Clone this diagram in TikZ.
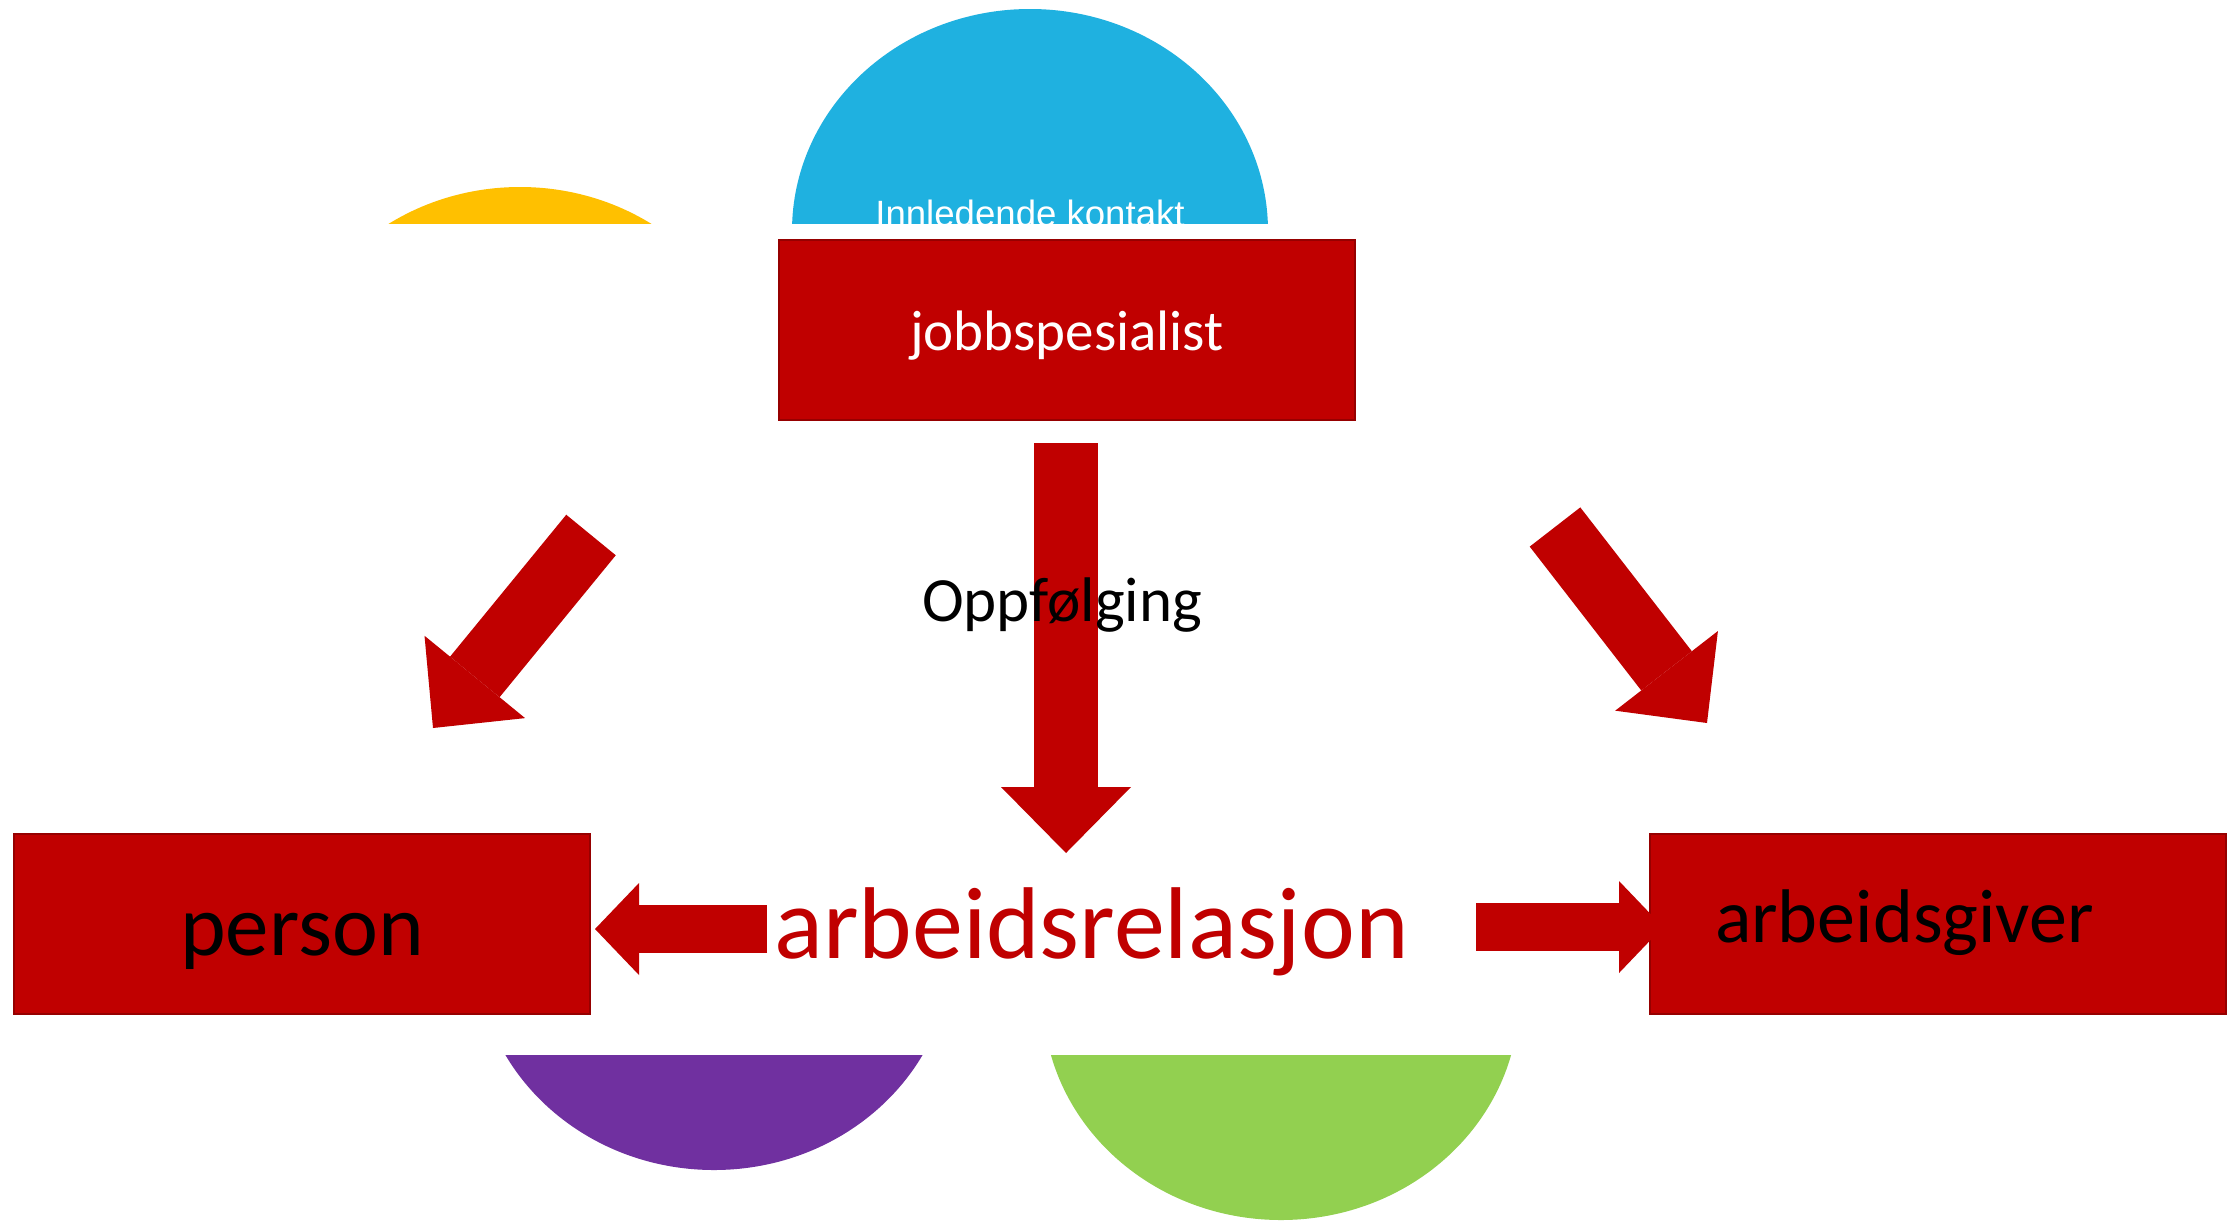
\documentclass[tikz,border=0pt]{standalone}
\usepackage{fontspec}
\setmainfont{Carlito}
\newfontfamily\arialfont{Liberation Sans}
\usetikzlibrary{arrows.meta}

\definecolor{boxred}{RGB}{192,0,0}
\definecolor{edgered}{RGB}{150,0,0}
\definecolor{segblue}{RGB}{31,177,224}
\definecolor{segyellow}{RGB}{255,192,0}
\definecolor{segpurple}{RGB}{112,48,160}
\definecolor{seggreen}{RGB}{146,208,80}

\tikzset{every picture/.style={line width=0.75pt}}
\tikzset{
  rolebox/.style={fill=boxred, draw=edgered, line width=1pt, minimum width=288pt, minimum height=90pt, inner sep=0pt},
  bigarrow/.style={draw=boxred, line width=32pt, -{Triangle[length=33pt 0 0, width=65pt 0 0, line width=0pt]}},
  smallarrow/.style={draw=boxred, line width=24pt, -{Triangle[length=22pt 0 0, width=46pt 0 0, line width=0pt]}},
}

\begin{document}
\begin{tikzpicture}[x=0.5pt,y=0.5pt,yscale=-1,xscale=1]
	\useasboundingbox (0,0) rectangle (2238,1221);
	\fill[white] (0,0) rectangle (2238,1221);

	%Shape: upper segments
	\begin{scope}
		\clip (0,0) rectangle (2238,223);
		\fill[segyellow] (520,409) ellipse [x radius=238, y radius=222];
		\fill[segblue] (1030,231) ellipse [x radius=238, y radius=222];
		% Text Node
		\node (innl) [anchor=base, inner sep=0pt, text=white, font=\arialfont\fontsize{18.3pt}{22pt}\selectfont] at (1030,226) {Innledende kontakt};
	\end{scope}
	%Shape: lower segments
	\begin{scope}
		\clip (0,1055) rectangle (2238,1221);
		\fill[segpurple] (714,948) ellipse [x radius=238, y radius=222];
		\fill[seggreen] (1281,998) ellipse [x radius=238, y radius=222];
	\end{scope}

	%Shape: boxes
	\node (jobb) [rolebox, text=white, text height=20.5pt, text depth=0pt, font=\fontsize{28.5pt}{32pt}\selectfont] at (1067,329.5) {jobbspesialist};
	\node (person) [rolebox, text=black, text height=31pt, text depth=0pt, font=\fontsize{43.5pt}{48pt}\selectfont] at (302,924) {person};
	\node (giver) [rolebox, text=black, text height=18pt, text depth=0pt, text width=223pt, align=left, font=\fontsize{38pt}{42pt}\selectfont] at (1938,924) {arbeidsgiver};

	%Arrow ends
	\coordinate (ctail) at (1066,443);
	\coordinate (ctip) at (1066,853);
	\coordinate (ltail) at (591,535);
	\coordinate (ltip) at (433,728);
	\coordinate (rtail) at (1555,527);
	\coordinate (rtip) at (1707,723);
	\coordinate (pltail) at (767,929);
	\coordinate (pltip) at (595,929);
	\coordinate (grtail) at (1476,927);
	\coordinate (grtip) at (1663,927);

	%Block arrows
	\draw[bigarrow] (ctail) -- (ctip);
	\draw[bigarrow] (ltail) -- (ltip);
	\draw[bigarrow] (rtail) -- (rtip);
	\draw[smallarrow] (pltail) -- (pltip);
	\draw[smallarrow] (grtail) -- (grtip);

	% Text Node
	\node (oppf) [anchor=base, inner sep=0pt, font=\fontsize{31.5pt}{36pt}\selectfont] at (1062,621) {Oppfølging};
	% Text Node
	\node (relasjon) [anchor=base, inner sep=0pt, text=boxred, font=\fontsize{51pt}{60pt}\selectfont] at (1091.5,958) {arbeidsrelasjon};
\end{tikzpicture}
\end{document}
